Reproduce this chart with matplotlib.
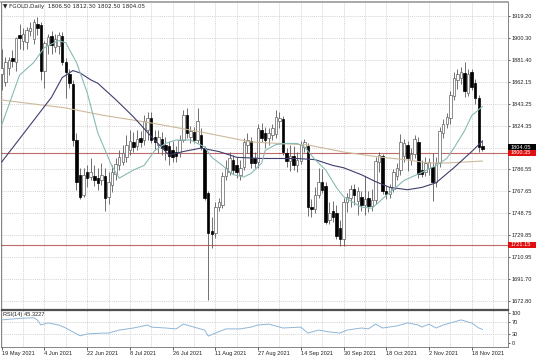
import matplotlib
matplotlib.use('Agg')
import matplotlib.pyplot as plt
import matplotlib.transforms as mtransforms
from matplotlib.patches import Rectangle
import numpy as np

plt.rcParams['font.family'] = ['Liberation Sans', 'DejaVu Sans']

# daily OHLC, 19 May 2021 .. 23 Nov 2021
opens = [1869, 1862, 1874, 1883, 1879, 1903, 1898, 1897, 1906, 1899,
         1912, 1911, 1872, 1894, 1902, 1892, 1893, 1902, 1879, 1869,
         1860, 1812, 1782, 1764, 1784, 1780, 1781, 1779, 1777, 1781,
         1763, 1773, 1783, 1790, 1793, 1797, 1803, 1810, 1807, 1814,
         1812, 1821, 1831, 1815, 1808, 1813, 1808, 1807, 1803, 1802,
         1801, 1812, 1834, 1815, 1819, 1812, 1816, 1805, 1766, 1733,
         1732, 1754, 1756, 1781, 1784, 1795, 1790, 1782, 1789, 1808,
         1811, 1796, 1793, 1821, 1818, 1814, 1816, 1817, 1828, 1830,
         1801, 1794, 1798, 1790, 1794, 1806, 1807, 1754, 1752, 1764,
         1776, 1772, 1743, 1751, 1749, 1736, 1726, 1758, 1762, 1770,
         1759, 1763, 1756, 1762, 1755, 1760, 1793, 1798, 1768, 1765,
         1770, 1781, 1786, 1798, 1808, 1795, 1800, 1810, 1786, 1784,
         1788, 1789, 1776, 1792, 1818, 1826, 1831, 1850, 1864, 1866,
         1870, 1853, 1871, 1861, 1848, 1806.5]
highs = [1891, 1884, 1884, 1890, 1901, 1912, 1909, 1910, 1914, 1917,
         1918, 1914, 1898, 1904, 1906, 1904, 1905, 1905, 1883, 1873,
         1864, 1818, 1788, 1788, 1790, 1796, 1790, 1788, 1792, 1788,
         1784, 1790, 1796, 1803, 1808, 1816, 1821, 1819, 1821, 1820,
         1834, 1836, 1836, 1821, 1821, 1819, 1815, 1811, 1811, 1807,
         1816, 1838, 1840, 1824, 1823, 1840, 1822, 1807, 1768, 1745,
         1758, 1762, 1784, 1795, 1802, 1799, 1797, 1795, 1814, 1818,
         1815, 1802, 1826, 1827, 1823, 1822, 1826, 1838, 1836, 1833,
         1805, 1808, 1807, 1802, 1811, 1813, 1809, 1761, 1771, 1788,
         1787, 1776, 1758, 1759, 1756, 1743, 1762, 1766, 1773, 1774,
         1771, 1768, 1781, 1768, 1770, 1797, 1802, 1800, 1772, 1774,
         1787, 1792, 1817, 1813, 1811, 1805, 1816, 1815, 1795, 1797,
         1796, 1801, 1797, 1823, 1830, 1835, 1854, 1871, 1873, 1875,
         1879, 1873, 1873, 1865, 1851, 1812.3]
lows = [1855, 1859, 1868, 1875, 1872, 1891, 1890, 1891, 1902, 1895,
        1903, 1864, 1857, 1886, 1886, 1888, 1886, 1877, 1848, 1857,
        1807, 1769, 1761, 1763, 1771, 1777, 1772, 1769, 1773, 1751,
        1757, 1767, 1777, 1786, 1790, 1793, 1799, 1802, 1803, 1806,
        1808, 1812, 1809, 1803, 1801, 1799, 1795, 1790, 1793, 1793,
        1797, 1810, 1814, 1809, 1809, 1809, 1803, 1760, 1674, 1719,
        1727, 1751, 1753, 1777, 1782, 1783, 1779, 1777, 1786, 1801,
        1788, 1788, 1788, 1810, 1805, 1808, 1812, 1814, 1822, 1799,
        1789, 1785, 1786, 1784, 1791, 1802, 1746, 1745, 1749, 1762,
        1766, 1739, 1739, 1741, 1726, 1720, 1720, 1750, 1754, 1756,
        1747, 1751, 1747, 1750, 1751, 1757, 1784, 1765, 1761, 1762,
        1767, 1777, 1782, 1793, 1785, 1790, 1796, 1779, 1780, 1781,
        1782, 1759, 1771, 1789, 1814, 1822, 1826, 1847, 1856, 1860,
        1849, 1850, 1855, 1843, 1802, 1802.5]
closes = [1874, 1879, 1881, 1880, 1900, 1900, 1904, 1907, 1909, 1914,
          1909, 1872, 1896, 1901, 1894, 1899, 1903, 1879, 1871, 1861,
          1812, 1776, 1763, 1782, 1779, 1784, 1777, 1775, 1782, 1762,
          1776, 1784, 1791, 1797, 1801, 1808, 1811, 1806, 1813, 1810,
          1828, 1831, 1812, 1810, 1815, 1805, 1803, 1798, 1797, 1798,
          1812, 1834, 1818, 1820, 1812, 1828, 1806, 1762, 1732, 1731,
          1754, 1758, 1781, 1788, 1796, 1786, 1784, 1788, 1810, 1812,
          1792, 1792, 1822, 1814, 1812, 1818, 1822, 1832, 1831, 1802,
          1794, 1798, 1790, 1795, 1808, 1810, 1754, 1752, 1764, 1776,
          1769, 1741, 1749, 1745, 1729, 1726, 1758, 1763, 1770, 1764,
          1768, 1756, 1761, 1755, 1760, 1794, 1799, 1768, 1765, 1771,
          1784, 1788, 1810, 1809, 1796, 1800, 1813, 1783, 1783, 1792,
          1793, 1776, 1792, 1820, 1826, 1832, 1851, 1866, 1869, 1871,
          1854, 1869, 1858, 1848, 1806, 1804.05]

# moving averages sampled along the chart (bar index, price)
ma_fast_bar = [0, 5, 9, 12, 16, 18, 21, 24, 27, 31, 33, 37, 40, 43, 46, 49, 53,
               57, 59, 62, 65, 68, 70, 73, 74, 77, 80, 83, 85, 88, 91, 94, 96,
               101, 104, 108, 113, 118, 122, 125, 127, 130, 132, 135]
ma_fast_val = [1825, 1868, 1879, 1892, 1898, 1896, 1879, 1853, 1818, 1789, 1779,
               1786, 1790, 1803, 1809, 1812, 1812, 1806, 1797, 1790, 1782, 1780,
               1783, 1792, 1803, 1808, 1809, 1809, 1806, 1795, 1786, 1771, 1763,
               1754, 1753, 1764, 1777, 1784, 1790, 1796, 1805, 1820, 1833, 1841]
ma_mid_bar = [0, 9, 14, 17, 20, 22, 25, 27, 32, 37, 42, 47, 51, 56, 61, 66, 73,
              77, 83, 88, 93, 96, 101, 105, 109, 114, 118, 122, 127, 132, 135]
ma_mid_val = [1793, 1829, 1849, 1866, 1872, 1870, 1864, 1861, 1847, 1832, 1815,
              1799, 1802, 1805, 1802, 1797, 1796, 1796, 1796, 1795, 1790, 1788,
              1782, 1776, 1771, 1769, 1771, 1775, 1788, 1802, 1811]
ma_slow_bar = [0, 9, 18, 28, 42, 56, 70, 86, 96, 106, 114, 120, 125, 135]
ma_slow_val = [1846.6, 1843.1, 1839.7, 1833.6, 1826.7, 1818.9, 1810.3, 1807.7,
               1801.6, 1797.3, 1794.7, 1792.1, 1792.1, 1793.8]

# RSI(14) sampled along the chart
rsi_bar = [0, 5, 9, 10, 11, 13, 16, 18, 22, 24, 28, 30, 33, 37, 41, 42, 46, 49,
           51, 54, 57, 58, 60, 63, 67, 70, 72, 75, 79, 84, 86, 89, 92, 95, 97,
           101, 103, 105, 107, 111, 114, 117, 118, 120, 122, 124, 127, 129,
           131, 132, 134, 135]
rsi_val = [77, 82, 84, 77, 60, 67, 60, 50, 24, 30, 33, 33, 43, 50, 60, 53, 50, 47,
           63, 53, 43, 23, 33, 47, 47, 53, 60, 63, 50, 53, 33, 43, 37, 33, 43,
           50, 47, 63, 50, 57, 67, 60, 53, 63, 50, 60, 70, 77, 70, 67, 50, 45.32]

price_levels = [1919.20, 1900.30, 1881.40, 1862.15, 1843.25, 1824.35, 1805.45,
                1786.55, 1767.65, 1748.75, 1729.85, 1710.95, 1691.70, 1672.80]
date_labels = ['19 May 2021', '4 Jun 2021', '22 Jun 2021', '8 Jul 2021',
               '26 Jul 2021', '11 Aug 2021', '27 Aug 2021', '14 Sep 2021',
               '30 Sep 2021', '18 Oct 2021', '2 Nov 2021', '18 Nov 2021']
hlines = [1800.35, 1721.15]
last_price = 1804.05

W, H = 536, 357
fig = plt.figure(figsize=(W / 100, H / 100), dpi=100)
ax = fig.add_axes([1 / W, (H - 308.5) / H, 507 / W, 306.5 / H])
rx = fig.add_axes([1 / W, (H - 346.5) / H, 507 / W, 36.5 / H])

grid_kw = dict(color='#c4c4c4', lw=0.5, ls=(0, (1.5, 1.5)), zorder=0)
fs = 4.1
txt_col = '#222222'

n = len(opens)
idx = np.arange(n)
o = np.array(opens, float)
h = np.array(highs, float)
l = np.array(lows, float)
c = np.array(closes, float)
up = c >= o

# grid
for p in price_levels:
    ax.axhline(p, **grid_kw)
for b in range(0, 142, 6):
    ax.axvline(b, **grid_kw)
    rx.axvline(b, **grid_kw)
for lv in [30, 70]:
    rx.axhline(lv, **grid_kw)

# candles
ax.vlines(idx, l, h, color='#5a5a5a', lw=0.6, zorder=2)
ax.bar(idx[up], (c - o)[up], bottom=o[up], width=0.7, color='white',
       edgecolor='#606060', linewidth=0.5, zorder=3)
ax.bar(idx[~up], (o - c)[~up], bottom=c[~up], width=0.7, color='black',
       edgecolor='black', linewidth=0.5, zorder=3)

# moving averages
ax.plot(ma_slow_bar, ma_slow_val, color='#cdb99c', lw=0.8, zorder=4)
ax.plot(ma_mid_bar, ma_mid_val, color='#3e3e6e', lw=0.8, zorder=4)
ax.plot(ma_fast_bar, ma_fast_val, color='#88bab5', lw=0.8, zorder=4)

# horizontal levels
for p in hlines:
    ax.axhline(p, color='#c06a6a', lw=0.8, zorder=1.5)

ax.set_xlim(-0.2, 142.2)
ax.set_ylim(1666.3, 1931.3)
rx.set_xlim(-0.2, 142.2)
rx.set_ylim(-11.7, 110)

ax.yaxis.tick_right()
ax.set_yticks(price_levels)
ax.set_yticklabels(['%.2f' % p if abs(p - 1805.45) > 0.01 else '' for p in price_levels])
ax.tick_params(axis='y', length=1.5, width=0.5, pad=1, labelsize=fs, colors=txt_col)
ax.set_xticks([])

rx.plot(rsi_bar, rsi_val, color='#8fb6d8', lw=0.7, zorder=3)
rx.yaxis.tick_right()
rx.set_yticks([0, 30, 70, 100])
rx.tick_params(axis='y', length=1.5, width=0.5, pad=1, labelsize=fs, colors=txt_col)
rx.set_xticks(range(0, 12 * len(date_labels), 12))
rx.set_xticklabels(date_labels)
rx.tick_params(axis='x', length=2, width=0.5, pad=1.5, labelsize=fs, colors=txt_col)
for t in rx.get_xticklabels():
    t.set_ha('left')

for a in (ax, rx):
    for s in a.spines.values():
        s.set_color('#707070')
        s.set_linewidth(0.6)
ax.spines['bottom'].set_linewidth(0.9)
ax.spines['bottom'].set_color('#505050')
rx.spines['top'].set_linewidth(0.9)
rx.spines['top'].set_color('#505050')
ax.spines['top'].set_linewidth(1.2)
ax.spines['top'].set_color('#9a9a9a')

# price tags on the right scale
tr = mtransforms.blended_transform_factory(ax.transAxes, ax.transData)
bw = 28 / 507
tags = [(last_price, 1803.3, 1808.3, 'black'),
        (hlines[0], 1798.4, 1803.3, '#e01010'),
        (hlines[1], 1718.9, 1723.6, '#e01010')]
for val, y0, y1, col in tags:
    ax.add_patch(Rectangle((1.0, y0), bw, y1 - y0, transform=tr, facecolor=col,
                           edgecolor='none', clip_on=False, zorder=10))
    ax.text(1.0 + 3 / 507, (y0 + y1) / 2, '%.2f' % val, transform=tr, color='white',
            fontsize=fs, ha='left', va='center', zorder=11, clip_on=False)

ax.annotate('\u25bc FGOLD,Daily  %.2f %.2f %.2f %.2f' % (opens[-1], highs[-1], lows[-1], closes[-1]),
            xy=(0, 1), xycoords='axes fraction', xytext=(2, -2),
            textcoords='offset pixels', ha='left', va='top', fontsize=fs,
            color=txt_col, family=['DejaVu Sans'])
rx.annotate('RSI(14) 45.3227', xy=(0, 1), xycoords='axes fraction',
            xytext=(2, -2), textcoords='offset pixels', ha='left', va='top',
            fontsize=fs, color=txt_col)

fig.savefig('out.png', dpi=100)
